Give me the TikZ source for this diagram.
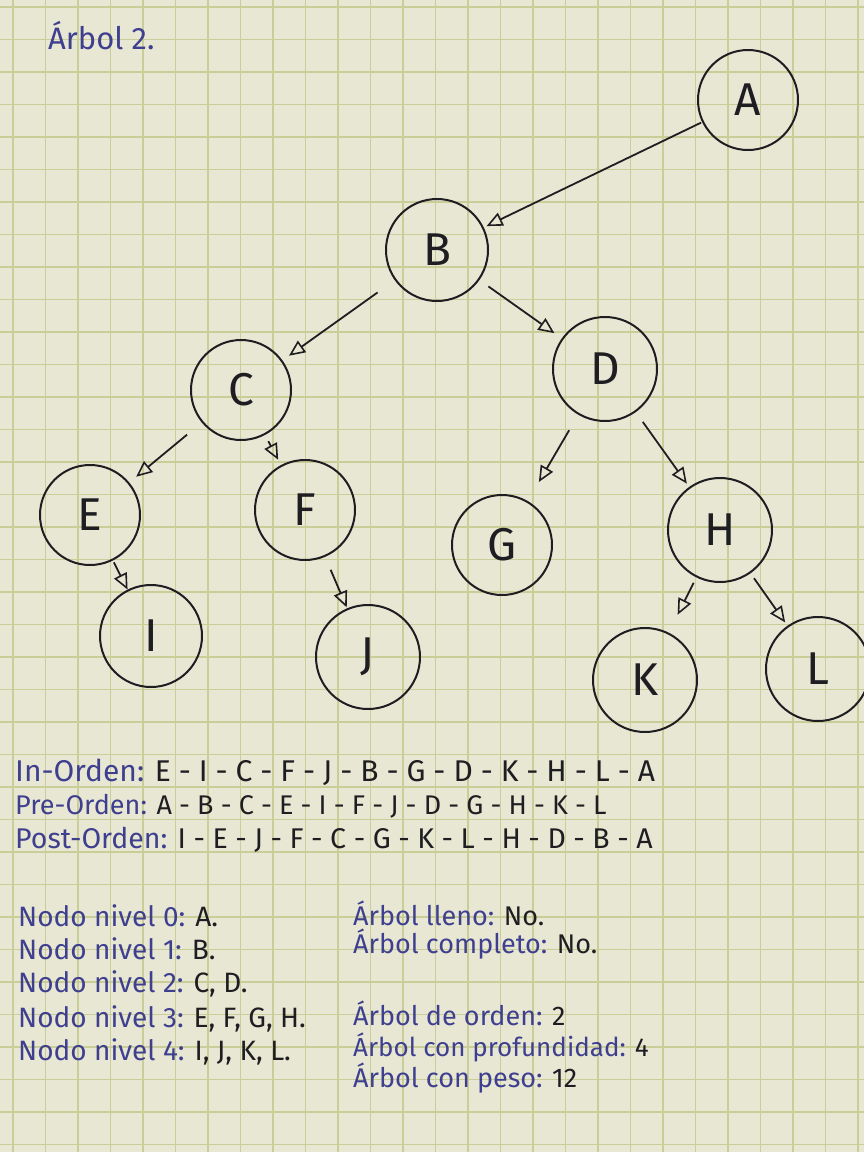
\documentclass[tikz,border=0pt]{standalone}
\usepackage{fontspec}
\setmainfont{Fira Sans}
\usetikzlibrary{arrows.meta}
\definecolor{paper}{HTML}{E8E7D3}
\definecolor{gridc}{HTML}{C9CD98}
\definecolor{ink}{HTML}{3E3F8F}
\definecolor{pen}{HTML}{1E1E22}
\begin{document}
\begin{tikzpicture}[x=1pt,y=-1pt,
  nd/.style={circle,draw=pen,line width=2pt,minimum size=100pt,inner sep=0pt,outer sep=0pt,
    font=\fontsize{46}{50}\selectfont,text=pen},
  edge/.style={draw=pen,line width=1.8pt,-{Triangle[open,length=16pt,width=14pt,line width=1.6pt]}},
  lbl/.style={anchor=west,inner sep=0pt,text=ink,font=\fontsize{27}{30}\selectfont},
  gridline/.style={draw=gridc,line width=1.3pt}]
\fill[paper] (0,0) rectangle (864,1152);
\useasboundingbox (0,0) rectangle (864,1152);
\foreach \x in {13,45.5,...,864} \draw[gridline] (\x,0) -- (\x,1152);
\foreach \y in {7,39.5,...,1152} \draw[gridline] (0,\y) -- (864,\y);

% title
\node[lbl,font=\fontsize{31}{33}\selectfont] (title) at (48,36) {Árbol 2.};

% tree nodes
\node[nd] (A) at (748,100) {A};
\node[nd,minimum size=102pt] (B) at (437,250) {B};
\node[nd] (C) at (241,390) {C};
\node[nd,minimum size=104pt] (D) at (605,369) {D};
\node[nd] (E) at (90,515) {E};
\node[nd] (F) at (305,510) {F};
\node[nd] (G) at (502,545) {G};
\node[nd,minimum size=104pt] (H) at (720,530) {H};
\node[nd,minimum size=102pt] (I) at (151,636) {I};
\node[nd,minimum size=104pt] (J) at (368,657) {J};
\node[nd,minimum size=104pt] (K) at (645,680) {K};
\node[nd,minimum size=104pt] (L) at (818,669) {L};

% connectors
\draw[edge,shorten <=2pt,shorten >=4pt] (A) -- (B);
\draw[edge,shorten <=22pt,shorten >=9pt] (B) -- (C);
\draw[edge,shorten <=12pt,shorten >=10pt] (B) -- (D);
\draw[edge,shorten <=20pt,shorten >=10pt] (C) -- (E);
\draw[edge,shorten <=8pt,shorten >=7pt] (C) -- (F);
\draw[edge,shorten <=19pt,shorten >=23pt] (D) -- (G);
\draw[edge,shorten <=13pt,shorten >=5pt] (D) -- (H);
\draw[edge,shorten <=3pt,shorten >=1pt] (E) -- (I);
\draw[edge,shorten <=15pt,shorten >=2pt] (F) -- (J);
\draw[edge,shorten <=7pt,shorten >=21pt] (H) -- (K);
\draw[edge,shorten <=7pt,shorten >=5pt] (H) -- (L);

% traversals
\node[lbl,font=\fontsize{30}{32}\selectfont] (inord) at (15,772) {In-Orden: {\color{pen}E - I - C - F - J - B - G - D - K - H - L - A}};
\node[lbl] (preord) at (15,806) {Pre-Orden: {\color{pen}A - B - C - E - I - F - J - D - G - H - K - L}};
\node[lbl,font=\fontsize{28.5}{31}\selectfont] (postord) at (15,840) {Post-Orden: {\color{pen}I - E - J - F - C - G - K - L - H - D - B - A}};

% levels
\node[lbl,font=\fontsize{28}{30}\selectfont] (n0) at (18,916) {Nodo nivel 0: {\color{pen}A.}};
\node[lbl,font=\fontsize{28}{30}\selectfont] (n1) at (18,949) {Nodo nivel 1: {\color{pen}B.}};
\node[lbl,font=\fontsize{28}{30}\selectfont] (n2) at (18,984) {Nodo nivel 2: {\color{pen}C, D.}};
\node[lbl,font=\fontsize{28}{30}\selectfont] (n3) at (18,1019) {Nodo nivel 3: {\color{pen}E, F, G, H.}};
\node[lbl,font=\fontsize{28}{30}\selectfont] (n4) at (18,1052) {Nodo nivel 4: {\color{pen}I, J, K, L.}};

% properties
\node[lbl] (p1) at (353,913) {Árbol lleno: {\color{pen}No.}};
\node[lbl] (p2) at (353,944) {Árbol completo: {\color{pen}No.}};
\node[lbl] (p3) at (353,1013) {Árbol de orden: {\color{pen}2}};
\node[lbl,font=\fontsize{26}{30}\selectfont] (p4) at (353,1047) {Árbol con profundidad: {\color{pen}4}};
\node[lbl] (p5) at (353,1078) {Árbol con peso: {\color{pen}12}};
\end{tikzpicture}
\end{document}
